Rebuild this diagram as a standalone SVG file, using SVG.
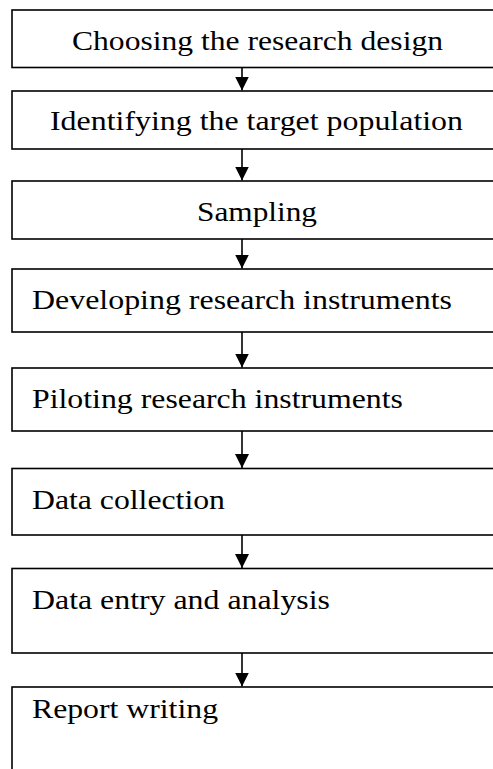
<svg xmlns="http://www.w3.org/2000/svg" width="493" height="769" viewBox="0 0 493 769">
<defs>
<style>
.box{fill:#fff;stroke:#000;stroke-width:1.6}
.t{font-family:"Liberation Serif","Times New Roman",serif;font-size:27px;fill:#000}
.c{text-anchor:middle}
.edge{stroke:#000;stroke-width:1.6;fill:none;marker-end:url(#ah)}
</style>
<marker id="ah" viewBox="0 0 14 14" refX="14" refY="7" markerWidth="14" markerHeight="14" markerUnits="userSpaceOnUse" orient="auto">
<path d="M0,0 L14,7 L0,14 Z" fill="#000"/>
</marker>
</defs>
<rect width="493" height="769" fill="#fff"/>
<g id="connectors">
<line class="edge" x1="242" y1="67.5" x2="242" y2="90.5"/>
<line class="edge" x1="242" y1="149" x2="242" y2="180.5"/>
<line class="edge" x1="242" y1="239" x2="242" y2="268.5"/>
<line class="edge" x1="242" y1="332" x2="242" y2="367.5"/>
<line class="edge" x1="242" y1="431" x2="242" y2="468"/>
<line class="edge" x1="242" y1="535" x2="242" y2="568"/>
<line class="edge" x1="242" y1="653" x2="242" y2="686.5"/>
</g>
<g id="n1"><rect class="box" x="12" y="10" width="490" height="57.5"/><text class="t c" x="257.5" y="50" textLength="371" lengthAdjust="spacingAndGlyphs">Choosing the research design</text></g>
<g id="n2"><rect class="box" x="12" y="91" width="490" height="58"/><text class="t c" x="256.5" y="130" textLength="413" lengthAdjust="spacingAndGlyphs">Identifying the target population</text></g>
<g id="n3"><rect class="box" x="12" y="181" width="490" height="58"/><text class="t c" x="257" y="221" textLength="120" lengthAdjust="spacingAndGlyphs">Sampling</text></g>
<g id="n4"><rect class="box" x="12" y="269" width="490" height="63"/><text class="t" x="32" y="309" textLength="420" lengthAdjust="spacingAndGlyphs">Developing research instruments</text></g>
<g id="n5"><rect class="box" x="12" y="368" width="490" height="63"/><text class="t" x="32" y="408" textLength="371" lengthAdjust="spacingAndGlyphs">Piloting research instruments</text></g>
<g id="n6"><rect class="box" x="12" y="468.5" width="490" height="66.5"/><text class="t" x="32" y="509" textLength="193" lengthAdjust="spacingAndGlyphs">Data collection</text></g>
<g id="n7"><rect class="box" x="12" y="568.5" width="490" height="84.5"/><text class="t" x="32" y="609" textLength="298" lengthAdjust="spacingAndGlyphs">Data entry and analysis</text></g>
<g id="n8"><rect class="box" x="12" y="687" width="490" height="100"/><text class="t" x="32" y="718" textLength="186" lengthAdjust="spacingAndGlyphs">Report writing</text></g>
</svg>
